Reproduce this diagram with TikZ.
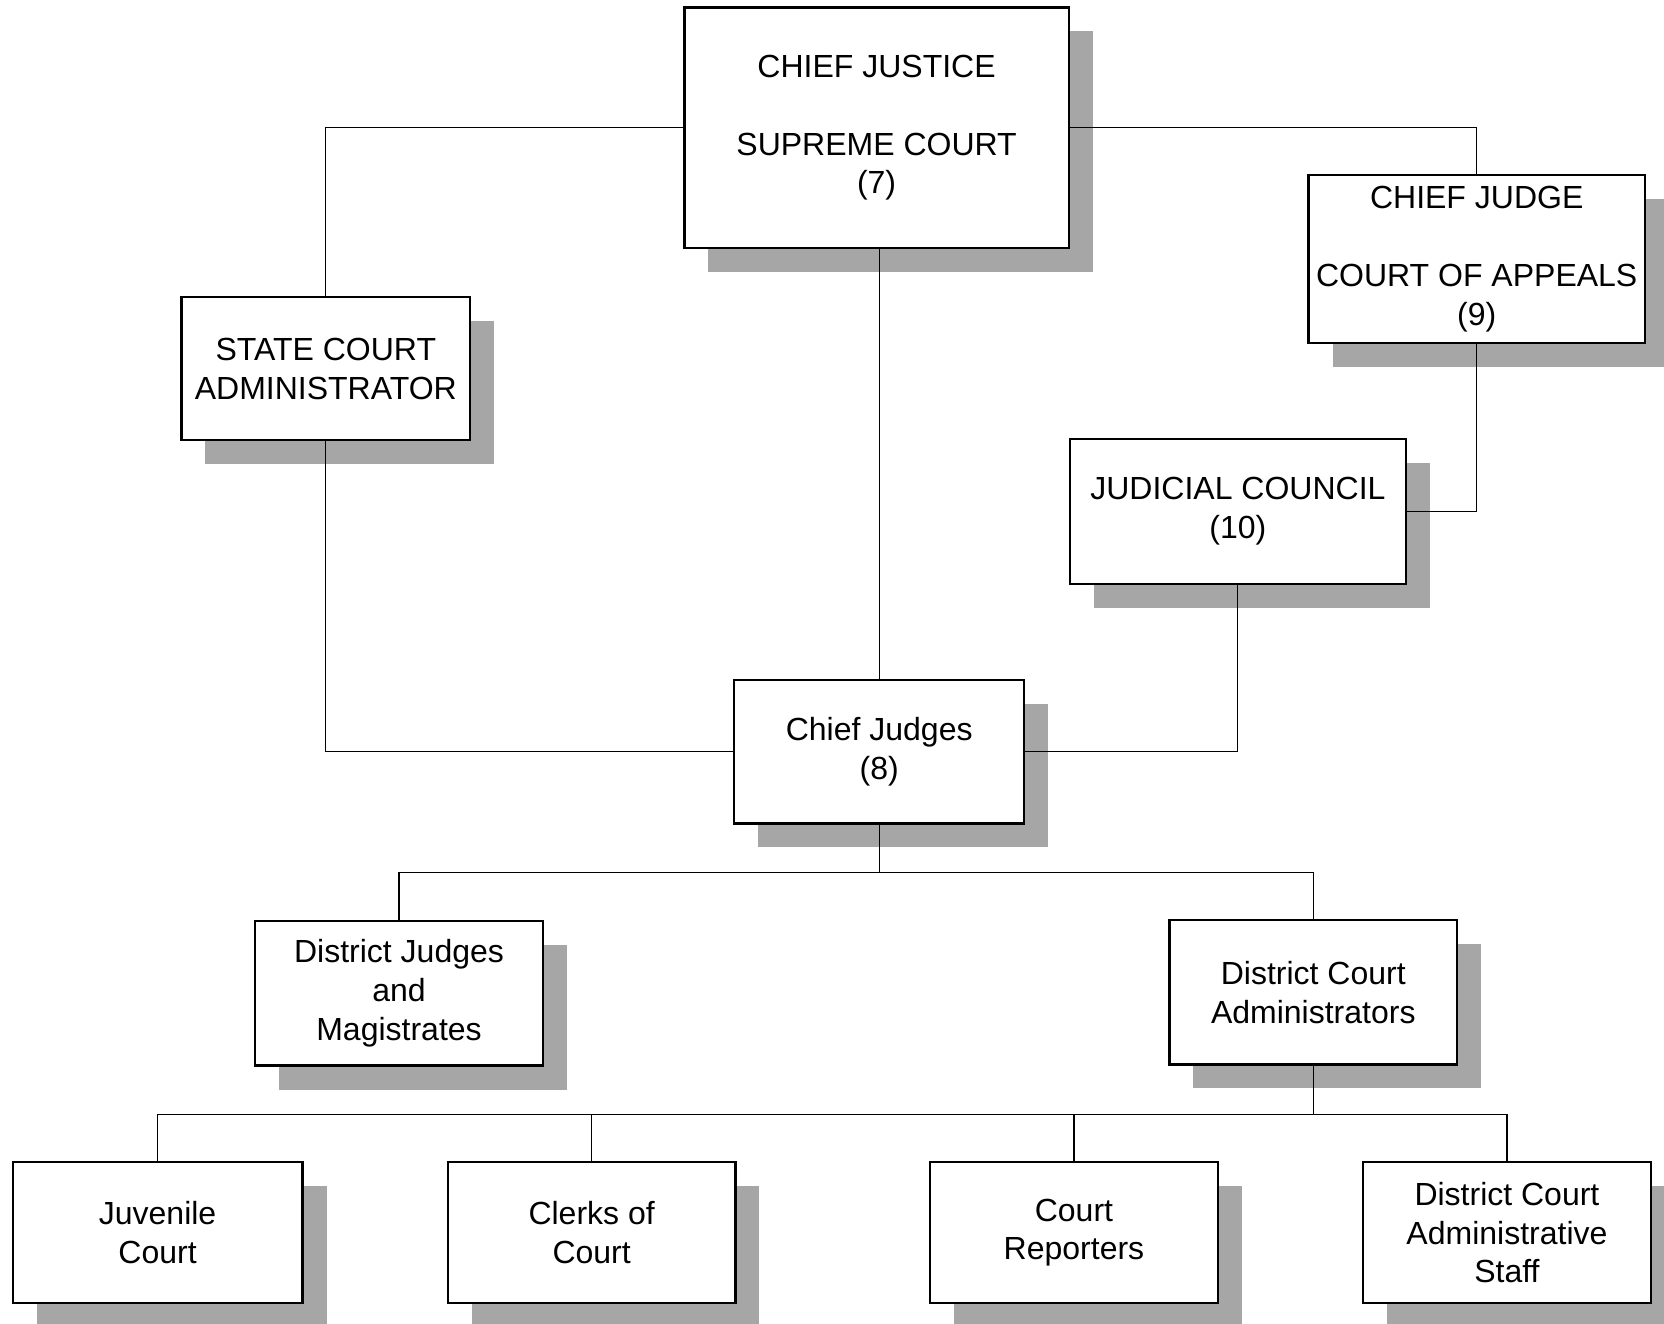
\documentclass[tikz,border=0pt]{standalone}
\usepackage{fontspec}
\setmainfont{Liberation Sans}
\usetikzlibrary{shadows}
\begin{document}
\begin{tikzpicture}[x=0.5306pt,y=-0.5306pt,
  box/.style={draw=black, line width=1.1pt, fill=white, align=center, inner sep=0pt,
     font=\fontsize{16}{19.4}\selectfont,
     drop shadow={shadow xshift=12pt, shadow yshift=-12pt, fill=black!35, opacity=1}},
  conn/.style={line width=0.55pt}]
\useasboundingbox (0,0) rectangle (1568,1247);
% boxes
\node[box, minimum width=192.1pt, minimum height=120.4pt] (cj) at (826,120.5)
  {CHIEF JUSTICE\\[19.4pt]SUPREME COURT\\(7)};
\node[box, minimum width=144.3pt, minimum height=71.6pt] (sca) at (307,347.5)
  {STATE COURT\\ADMINISTRATOR};
\node[box, minimum width=168.2pt, minimum height=83.8pt] (cja) at (1391.5,244)
  {CHIEF JUDGE\\[19.4pt]COURT OF APPEALS\\(9)};
\node[box, minimum width=168.2pt, minimum height=72.2pt] (jc) at (1166.5,482)
  {JUDICIAL COUNCIL\\(10)};
\node[box, minimum width=144.9pt, minimum height=71.6pt] (chj) at (828.5,708.5)
  {Chief Judges\\(8)};
\node[box, minimum width=144.3pt, minimum height=72.2pt] (dj) at (376,936)
  {District Judges\\and\\Magistrates};
\node[box, minimum width=143.8pt, minimum height=72.2pt] (dca) at (1237.5,935)
  {District Court\\Administrators};
\node[box, minimum width=144.9pt, minimum height=70.6pt] (juv) at (148.5,1161.5)
  {Juvenile\\Court};
\node[box, minimum width=143.8pt, minimum height=70.6pt] (clk) at (557.5,1161.5)
  {Clerks of\\Court};
\node[box, minimum width=144.3pt, minimum height=70.6pt] (rep) at (1012,1161.5)
  {Court\\Reporters};
\node[box, minimum width=144.3pt, minimum height=70.6pt] (stf) at (1420,1161.5)
  {District Court\\Administrative\\Staff};
% junction points
\coordinate (b1) at (828.5,822);
\coordinate (b2) at (1237.5,1050);
% connectors
\draw[conn] (cj.west) -| (sca.north);
\draw[conn] (cj.east) -| (cja.north);
\draw[conn] (chj.north) -- (chj.north |- cj.south);
\draw[conn] (sca.south) |- (chj.west);
\draw[conn] (cja.south) |- (jc.east);
\draw[conn] (jc.south) |- (chj.east);
\draw[conn] (chj.south) -- (b1);
\draw[conn] (dj.north) |- (b1) -| (dca.north);
\draw[conn] (dca.south) -- (b2);
\draw[conn] (juv.north) |- (b2);
\draw[conn] (clk.north) |- (b2);
\draw[conn] (rep.north) |- (b2);
\draw[conn] (stf.north) |- (b2);
\end{tikzpicture}
\end{document}
